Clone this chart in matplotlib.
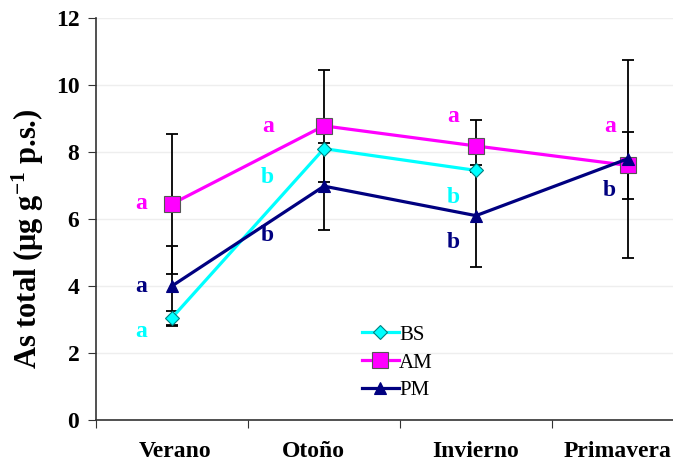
import matplotlib
matplotlib.use("Agg")
import matplotlib.pyplot as plt
import numpy as np

seasons = ["Verano", "Otoño", "Invierno", "Primavera"]

bs = [3.05, 8.1, 7.45, np.nan]
bs_err = [0.2, 0.0, 0.0, 0.0]
am = [6.45, 8.78, 8.18, 7.6]
am_err = [2.1, 1.67, 0.78, 1.0]
pm = [4.0, 6.98, 6.1, 7.8]
pm_err = [1.18, 1.3, 1.52, 2.95]

# significance letters per season
bs_letters = ["a", "b", "b", ""]
am_letters = ["a", "a", "a", "a"]
pm_letters = ["a", "b", "b", "b"]

plt.rcParams['font.family'] = ['Liberation Serif', 'DejaVu Serif']
plt.rcParams['mathtext.default'] = 'regular'

fig = plt.figure(figsize=(6.73, 4.65), dpi=100)
ax = fig.add_axes([0.1426, 0.0968, 0.9034, 0.8645])

x = np.arange(len(seasons))

# error bars (black)
ax.errorbar(x, am, yerr=am_err, fmt='none', ecolor='black', elinewidth=1.3, capsize=4, capthick=1.3, zorder=2)
ax.errorbar(x, pm, yerr=pm_err, fmt='none', ecolor='black', elinewidth=1.3, capsize=4, capthick=1.3, zorder=2)
ax.errorbar(x, bs, yerr=bs_err, fmt='none', ecolor='black', elinewidth=1.3, capsize=4, capthick=1.3, zorder=2)

ax.plot(x, bs, color='#00FFFF', lw=2.3, marker='D', ms=7, mfc='#00FFFF', mec='#008080', mew=0.8, label='BS', zorder=3)
ax.plot(x, am, color='#FF00FF', lw=2.3, marker='s', ms=11, mfc='#FF00FF', mec='#555555', mew=0.8, label='AM', zorder=3)
ax.plot(x, pm, color='#000080', lw=2.3, marker='^', ms=9, mfc='#000080', mec='#000080', mew=0.8, label='PM', zorder=4)

# letters
offs = [-0.2, -0.37, -0.15, -0.12]
bs_y = [2.65, 7.25, 6.65, 0]
am_y = [6.45, 8.75, 9.05, 8.75]
pm_y = [3.98, 5.5, 5.3, 6.85]
for i in range(4):
    if bs_letters[i]:
        ax.text(x[i] + offs[i], bs_y[i], bs_letters[i], color='#00FFFF', fontsize=17, fontweight='bold', ha='center', va='center')
    ax.text(x[i] + offs[i], am_y[i], am_letters[i], color='#FF00FF', fontsize=17, fontweight='bold', ha='center', va='center')
    ax.text(x[i] + offs[i], pm_y[i], pm_letters[i], color='#000080', fontsize=17, fontweight='bold', ha='center', va='center')

ax.set_xlim(-0.5, 3.5)
ax.set_ylim(0, 12)
ax.set_yticks(np.arange(0, 13, 2))
ax.yaxis.grid(True, color='#eeeeee', lw=1)
ax.set_axisbelow(True)

# category boundaries as major ticks, names placed as minor tick labels
label_pos = [0.02, 0.93, 2.0, 2.93]
ax.set_xticks(np.arange(-0.5, 4, 1))
ax.set_xticklabels([])
ax.set_xticks(label_pos, minor=True)
ax.set_xticklabels(seasons, minor=True, fontsize=17, fontweight='bold')
ax.tick_params(axis='x', which='minor', length=0, pad=15)
ax.tick_params(axis='x', which='major', direction='out', length=6, color='#333333')
ax.tick_params(axis='y', direction='out', length=6, color='#333333', labelsize=17, pad=6)
for lb in ax.get_yticklabels():
    lb.set_fontweight('bold')

for s in ['top', 'right']:
    ax.spines[s].set_visible(False)
for s in ['left', 'bottom']:
    ax.spines[s].set_color('#333333')
    ax.spines[s].set_linewidth(1.2)

ax.set_ylabel('As total (μg g$^{-1}$ p.s.)', fontsize=22, fontweight='bold')
ax.yaxis.set_label_coords(-0.083, 0.45)

ax.legend(loc='upper left', bbox_to_anchor=(0.42, 0.262), frameon=False, fontsize=15,
          handlelength=1.8, handletextpad=0.0, labelspacing=0.4, borderpad=0)

fig.savefig('out.png', dpi=100)
